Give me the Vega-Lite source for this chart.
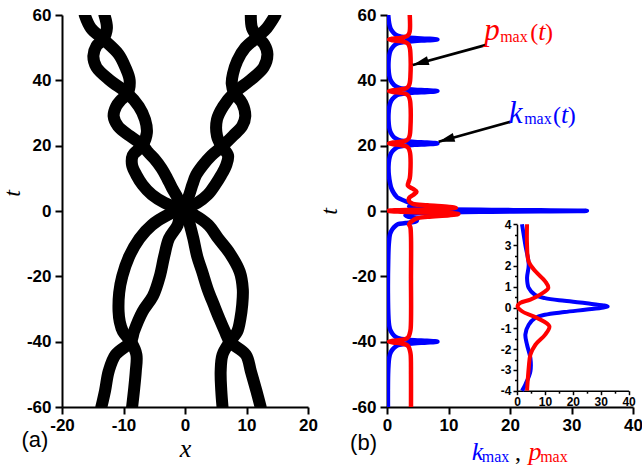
{
  "$schema": "https://vega.github.io/schema/vega-lite/v6.json",
  "background": "white",
  "padding": {"left": 0, "top": 6, "right": 0, "bottom": 0},
  "bounds": "flush",
  "spacing": 79,
  "config": {
    "view": {"stroke": null},
    "axis": {"grid": false, "domainColor": "black", "domainWidth": 2, "tickColor": "black", "tickWidth": 2,
      "labelFont": "Liberation Sans", "labelFontWeight": 700, "labelFontSize": 17, "labelColor": "black",
      "labelFlush": false, "labelOverlap": false,
      "titleFont": "Liberation Serif", "titleFontStyle": "italic", "titleFontWeight": "normal", "titleFontSize": 24, "titleColor": "black"}
  },
  "datasets": {
    "strands": [
      {"g":"LA","t":0.5,"x":-0.5},{"g":"LA","t":2.5,"x":-3.3},{"g":"LA","t":5,"x":-5.4},{"g":"LA","t":8,"x":-6.9},{"g":"LA","t":11,"x":-7.9},{"g":"LA","t":14,"x":-8.6},{"g":"LA","t":17,"x":-8.5},{"g":"LA","t":20.2,"x":-6.9},{"g":"LA","t":24,"x":-6.2},{"g":"LA","t":28,"x":-6.5},{"g":"LA","t":32,"x":-7.5},{"g":"LA","t":36,"x":-9.35},{"g":"LA","t":40,"x":-12.2},{"g":"LA","t":44,"x":-14.4},{"g":"LA","t":47.5,"x":-14.9},{"g":"LA","t":50.5,"x":-14.4},{"g":"LA","t":52.6,"x":-13.3},{"g":"LA","t":56,"x":-12.7},{"g":"LA","t":60,"x":-13.1},
      {"g":"LB","t":0.5,"x":-0.5},{"g":"LB","t":4,"x":-1.2},{"g":"LB","t":7,"x":-2.1},{"g":"LB","t":10,"x":-2.9},{"g":"LB","t":13,"x":-3.8},{"g":"LB","t":16,"x":-5.0},{"g":"LB","t":18,"x":-6.0},{"g":"LB","t":20.2,"x":-6.9},{"g":"LB","t":23,"x":-9.0},{"g":"LB","t":26,"x":-10.9},{"g":"LB","t":29,"x":-11.6},{"g":"LB","t":32,"x":-11.2},{"g":"LB","t":34,"x":-10.4},{"g":"LB","t":36,"x":-9.35},{"g":"LB","t":40,"x":-9.0},{"g":"LB","t":44,"x":-9.7},{"g":"LB","t":48,"x":-10.8},{"g":"LB","t":52.6,"x":-13.3},{"g":"LB","t":56,"x":-15.3},{"g":"LB","t":60,"x":-16.3},
      {"g":"RA","t":0.5,"x":-0.5},{"g":"RA","t":2.5,"x":2.0},{"g":"RA","t":5,"x":3.7},{"g":"RA","t":8,"x":4.9},{"g":"RA","t":11,"x":5.9},{"g":"RA","t":14,"x":6.7},{"g":"RA","t":17,"x":7.0},{"g":"RA","t":19.7,"x":6.0},{"g":"RA","t":23,"x":5.2},{"g":"RA","t":28,"x":5.2},{"g":"RA","t":32,"x":6.2},{"g":"RA","t":36.2,"x":8.0},{"g":"RA","t":40,"x":10.6},{"g":"RA","t":44,"x":12.8},{"g":"RA","t":48,"x":13.4},{"g":"RA","t":51,"x":12.9},{"g":"RA","t":53.3,"x":11.8},{"g":"RA","t":56,"x":10.9},{"g":"RA","t":60,"x":10.7},
      {"g":"RB","t":0.5,"x":-0.5},{"g":"RB","t":4,"x":0.5},{"g":"RB","t":8,"x":1.2},{"g":"RB","t":11,"x":1.8},{"g":"RB","t":14,"x":2.9},{"g":"RB","t":17,"x":4.3},{"g":"RB","t":19.7,"x":6.0},{"g":"RB","t":23,"x":7.8},{"g":"RB","t":26,"x":9.3},{"g":"RB","t":29,"x":9.8},{"g":"RB","t":33,"x":9.3},{"g":"RB","t":36.2,"x":8.0},{"g":"RB","t":39,"x":7.6},{"g":"RB","t":42,"x":7.8},{"g":"RB","t":46,"x":8.5},{"g":"RB","t":50,"x":9.8},{"g":"RB","t":53.3,"x":11.8},{"g":"RB","t":56,"x":13.3},{"g":"RB","t":60,"x":14.7},
      {"g":"LC","t":-60,"x":-8.6},{"g":"LC","t":-55,"x":-8.3},{"g":"LC","t":-49,"x":-8.0},{"g":"LC","t":-44,"x":-7.9},{"g":"LC","t":-40,"x":-8.8},{"g":"LC","t":-36.9,"x":-10.1},{"g":"LC","t":-34,"x":-10.6},{"g":"LC","t":-30.8,"x":-10.8},{"g":"LC","t":-25,"x":-10.7},{"g":"LC","t":-20,"x":-10.2},{"g":"LC","t":-14,"x":-9.1},{"g":"LC","t":-8.4,"x":-7.4},{"g":"LC","t":-4.3,"x":-5.4},{"g":"LC","t":-1.2,"x":-2.8},{"g":"LC","t":0.5,"x":-0.5},
      {"g":"LD","t":-60,"x":-13.6},{"g":"LD","t":-55,"x":-13.0},{"g":"LD","t":-49,"x":-12.4},{"g":"LD","t":-44,"x":-11.3},{"g":"LD","t":-40,"x":-8.8},{"g":"LD","t":-36.9,"x":-8.3},{"g":"LD","t":-30.8,"x":-6.9},{"g":"LD","t":-26,"x":-5.2},{"g":"LD","t":-20,"x":-4.1},{"g":"LD","t":-14,"x":-3.4},{"g":"LD","t":-8.4,"x":-2.6},{"g":"LD","t":-4.3,"x":-1.2},{"g":"LD","t":-1.2,"x":-0.8},{"g":"LD","t":0.5,"x":-0.5},
      {"g":"RC","t":-60,"x":12.3},{"g":"RC","t":-55,"x":11.6},{"g":"RC","t":-49,"x":10.7},{"g":"RC","t":-44,"x":9.9},{"g":"RC","t":-40,"x":7.3},{"g":"RC","t":-36.9,"x":6.5},{"g":"RC","t":-33,"x":5.6},{"g":"RC","t":-28.8,"x":4.7},{"g":"RC","t":-24,"x":3.7},{"g":"RC","t":-18.6,"x":2.8},{"g":"RC","t":-14,"x":2.0},{"g":"RC","t":-8.4,"x":1.35},{"g":"RC","t":-4.3,"x":0.8},{"g":"RC","t":-1.2,"x":0.3},{"g":"RC","t":0.5,"x":-0.5},
      {"g":"RD","t":-60,"x":6.1},{"g":"RD","t":-55,"x":5.9},{"g":"RD","t":-49,"x":5.8},{"g":"RD","t":-44,"x":6.1},{"g":"RD","t":-40,"x":7.3},{"g":"RD","t":-36.9,"x":8.5},{"g":"RD","t":-33,"x":9.0},{"g":"RD","t":-28.8,"x":9.3},{"g":"RD","t":-24,"x":9.4},{"g":"RD","t":-18.6,"x":8.9},{"g":"RD","t":-13,"x":7.3},{"g":"RD","t":-8.4,"x":5.4},{"g":"RD","t":-4.3,"x":3.8},{"g":"RD","t":-1.2,"x":1.5},{"g":"RD","t":0.5,"x":-0.5}
    ],
    "curves": [
      {"s":"k","t":-60,"v":0.15},{"s":"k","t":-55,"v":0.15},{"s":"k","t":-50,"v":0.18},{"s":"k","t":-47,"v":0.25},{"s":"k","t":-45,"v":0.35},{"s":"k","t":-43.5,"v":0.55},{"s":"k","t":-42.4,"v":0.9},{"s":"k","t":-41.5,"v":1.4},{"s":"k","t":-41,"v":2.0},{"s":"k","t":-40.7,"v":3.0},{"s":"k","t":-40.45,"v":4.5},{"s":"k","t":-40.25,"v":6.5},{"s":"k","t":-40,"v":8.2},{"s":"k","t":-39.75,"v":6.5},{"s":"k","t":-39.55,"v":4.5},{"s":"k","t":-39.3,"v":3.0},{"s":"k","t":-39,"v":2.0},{"s":"k","t":-38.5,"v":1.4},{"s":"k","t":-37.6,"v":0.9},{"s":"k","t":-36.5,"v":0.55},{"s":"k","t":-35,"v":0.35},{"s":"k","t":-33,"v":0.25},{"s":"k","t":-25,"v":0.15},{"s":"k","t":-15,"v":0.2},{"s":"k","t":-10,"v":0.3},{"s":"k","t":-7,"v":0.5},{"s":"k","t":-5.5,"v":0.9},{"s":"k","t":-4.5,"v":1.4},{"s":"k","t":-4,"v":1.8},{"s":"k","t":-3.7,"v":3.0},{"s":"k","t":-3.07,"v":4.8},{"s":"k","t":-2.43,"v":4.8},{"s":"k","t":-1.79,"v":3.6},{"s":"k","t":-1.3,"v":3.0},{"s":"k","t":-0.83,"v":4.2},{"s":"k","t":-0.5,"v":6.6},{"s":"k","t":-0.35,"v":10},{"s":"k","t":-0.22,"v":17},{"s":"k","t":-0.1,"v":25},{"s":"k","t":0,"v":31},{"s":"k","t":0.05,"v":32.5},{"s":"k","t":0.1,"v":31},{"s":"k","t":0.2,"v":25},{"s":"k","t":0.32,"v":17},{"s":"k","t":0.45,"v":10},{"s":"k","t":0.6,"v":6.5},{"s":"k","t":0.94,"v":4.2},{"s":"k","t":1.42,"v":3.6},{"s":"k","t":2.06,"v":4.2},{"s":"k","t":3,"v":3.0},{"s":"k","t":4,"v":1.8},{"s":"k","t":4.5,"v":1.5},{"s":"k","t":5.5,"v":1.1},{"s":"k","t":7,"v":0.7},{"s":"k","t":8.5,"v":0.5},{"s":"k","t":11,"v":0.3},{"s":"k","t":13.7,"v":0.25},{"s":"k","t":15.7,"v":0.35},{"s":"k","t":17.2,"v":0.55},{"s":"k","t":18.3,"v":0.9},{"s":"k","t":19.2,"v":1.4},{"s":"k","t":19.7,"v":2.0},{"s":"k","t":20.0,"v":3.0},{"s":"k","t":20.25,"v":4.5},{"s":"k","t":20.45,"v":6.5},{"s":"k","t":20.7,"v":8.2},{"s":"k","t":20.95,"v":6.5},{"s":"k","t":21.15,"v":4.5},{"s":"k","t":21.4,"v":3.0},{"s":"k","t":21.7,"v":2.0},{"s":"k","t":22.2,"v":1.4},{"s":"k","t":23.1,"v":0.9},{"s":"k","t":24.2,"v":0.55},{"s":"k","t":25.7,"v":0.35},{"s":"k","t":27.7,"v":0.25},{"s":"k","t":29.7,"v":0.25},{"s":"k","t":31.7,"v":0.35},{"s":"k","t":33.2,"v":0.55},{"s":"k","t":34.3,"v":0.9},{"s":"k","t":35.2,"v":1.4},{"s":"k","t":35.7,"v":2.0},{"s":"k","t":36.0,"v":3.0},{"s":"k","t":36.25,"v":4.5},{"s":"k","t":36.45,"v":6.5},{"s":"k","t":36.7,"v":8.2},{"s":"k","t":36.95,"v":6.5},{"s":"k","t":37.15,"v":4.5},{"s":"k","t":37.4,"v":3.0},{"s":"k","t":37.7,"v":2.0},{"s":"k","t":38.2,"v":1.4},{"s":"k","t":39.1,"v":0.9},{"s":"k","t":40.2,"v":0.55},{"s":"k","t":41.7,"v":0.35},{"s":"k","t":43.7,"v":0.25},{"s":"k","t":45.5,"v":0.25},{"s":"k","t":47.5,"v":0.35},{"s":"k","t":49,"v":0.55},{"s":"k","t":50.1,"v":0.9},{"s":"k","t":51,"v":1.4},{"s":"k","t":51.5,"v":2.0},{"s":"k","t":51.8,"v":3.0},{"s":"k","t":52.05,"v":4.5},{"s":"k","t":52.25,"v":6.5},{"s":"k","t":52.5,"v":8.2},{"s":"k","t":52.75,"v":6.5},{"s":"k","t":52.95,"v":4.5},{"s":"k","t":53.2,"v":3.0},{"s":"k","t":53.5,"v":2.0},{"s":"k","t":54,"v":1.4},{"s":"k","t":54.9,"v":0.9},{"s":"k","t":56,"v":0.55},{"s":"k","t":57.5,"v":0.35},{"s":"k","t":60,"v":0.2},
      {"s":"p","t":-60,"v":3.9},{"s":"p","t":-50,"v":3.9},{"s":"p","t":-44,"v":3.85},{"s":"p","t":-42.5,"v":3.7},{"s":"p","t":-41.5,"v":3.5},{"s":"p","t":-40.9,"v":3.1},{"s":"p","t":-40.5,"v":2.2},{"s":"p","t":-40.25,"v":1.0},{"s":"p","t":-40,"v":0.3},{"s":"p","t":-39.75,"v":1.0},{"s":"p","t":-39.5,"v":2.2},{"s":"p","t":-39.1,"v":3.1},{"s":"p","t":-38.5,"v":3.5},{"s":"p","t":-37.5,"v":3.7},{"s":"p","t":-36,"v":3.85},{"s":"p","t":-20,"v":3.9},{"s":"p","t":-8,"v":3.9},{"s":"p","t":-5,"v":3.8},{"s":"p","t":-4,"v":3.6},{"s":"p","t":-2.9,"v":4.2},{"s":"p","t":-2.27,"v":4.8},{"s":"p","t":-1.79,"v":6.6},{"s":"p","t":-1.3,"v":10.1},{"s":"p","t":-0.9,"v":11.6},{"s":"p","t":-0.5,"v":7.2},{"s":"p","t":-0.18,"v":1.8},{"s":"p","t":0.06,"v":0.2},{"s":"p","t":0.22,"v":1.2},{"s":"p","t":0.38,"v":4.8},{"s":"p","t":0.62,"v":8.3},{"s":"p","t":0.94,"v":11.2},{"s":"p","t":1.26,"v":10.1},{"s":"p","t":1.74,"v":6.6},{"s":"p","t":2.2,"v":4.2},{"s":"p","t":3,"v":3.6},{"s":"p","t":4,"v":3.6},{"s":"p","t":5,"v":4.3},{"s":"p","t":5.9,"v":4.8},{"s":"p","t":6.8,"v":4.2},{"s":"p","t":7.8,"v":3.4},{"s":"p","t":8.8,"v":3.5},{"s":"p","t":10,"v":3.7},{"s":"p","t":12,"v":3.8},{"s":"p","t":17,"v":3.8},{"s":"p","t":18.2,"v":3.7},{"s":"p","t":19.2,"v":3.5},{"s":"p","t":19.8,"v":3.1},{"s":"p","t":20.2,"v":2.2},{"s":"p","t":20.45,"v":1.0},{"s":"p","t":20.7,"v":0.3},{"s":"p","t":20.95,"v":1.0},{"s":"p","t":21.2,"v":2.2},{"s":"p","t":21.6,"v":3.1},{"s":"p","t":22.2,"v":3.5},{"s":"p","t":23.2,"v":3.7},{"s":"p","t":25,"v":3.8},{"s":"p","t":33,"v":3.8},{"s":"p","t":34.2,"v":3.7},{"s":"p","t":35.2,"v":3.5},{"s":"p","t":35.8,"v":3.1},{"s":"p","t":36.2,"v":2.2},{"s":"p","t":36.45,"v":1.0},{"s":"p","t":36.7,"v":0.3},{"s":"p","t":36.95,"v":1.0},{"s":"p","t":37.2,"v":2.2},{"s":"p","t":37.6,"v":3.1},{"s":"p","t":38.2,"v":3.5},{"s":"p","t":39.2,"v":3.7},{"s":"p","t":41,"v":3.8},{"s":"p","t":48.5,"v":3.8},{"s":"p","t":50,"v":3.7},{"s":"p","t":51,"v":3.5},{"s":"p","t":51.6,"v":3.1},{"s":"p","t":52,"v":2.2},{"s":"p","t":52.25,"v":1.0},{"s":"p","t":52.5,"v":0.3},{"s":"p","t":52.75,"v":1.0},{"s":"p","t":53,"v":2.2},{"s":"p","t":53.4,"v":3.1},{"s":"p","t":54,"v":3.5},{"s":"p","t":55,"v":3.7},{"s":"p","t":57,"v":3.75},{"s":"p","t":60,"v":3.7}
    ],
    "arrows": [
      {"v":16.0,"t":50.8,"v2":4.2,"t2":44.7},
      {"v":20.05,"t":27.3,"v2":8.4,"t2":21.2}
    ],
    "notes": [
      {"v":15.8,"t":52.4,"txt":"p","s":"p","role":"var"},
      {"v":18.4,"t":51.8,"txt":"max","s":"p","role":"sub"},
      {"v":23.3,"t":52.4,"txt":"(","s":"p","role":"par"},
      {"v":24.6,"t":52.4,"txt":"t","s":"p","role":"tv"},
      {"v":25.7,"t":52.4,"txt":")","s":"p","role":"par"},
      {"v":19.8,"t":26.9,"txt":"k","s":"k","role":"var"},
      {"v":22.3,"t":26.5,"txt":"max","s":"k","role":"sub"},
      {"v":27.0,"t":26.9,"txt":"(","s":"k","role":"par"},
      {"v":28.3,"t":26.9,"txt":"t","s":"k","role":"tv"},
      {"v":29.4,"t":26.9,"txt":")","s":"k","role":"par"},
      {"v":13.8,"t":-76.1,"txt":"k","s":"k","role":"tv"},
      {"v":15.4,"t":-76.7,"txt":"max","s":"k","role":"sub"},
      {"v":20.8,"t":-76.1,"txt":",","s":"n","role":"par"},
      {"v":23.0,"t":-76.1,"txt":"p","s":"p","role":"tv"},
      {"v":24.9,"t":-76.7,"txt":"max","s":"p","role":"sub"}
    ]
  },
  "hconcat": [
    {
      "width": 246, "height": 392,
      "layer": [
        {
          "data": {"name": "strands"},
          "mark": {"type": "line", "color": "black", "strokeWidth": 12, "strokeCap": "round", "strokeJoin": "round", "interpolate": "catmull-rom", "clip": true},
          "encoding": {
            "x": {"field": "x", "type": "quantitative", "scale": {"domain": [-20, 20], "nice": false, "zero": false},
              "axis": {"title": "x", "titleFontSize": 26, "titlePadding": 2, "values": [-20,-15,-10,-5,0,5,10,15,20],
                "labelExpr": "datum.value % 10 == 0 ? '' + datum.value : ''", "labelFontWeight": 700,
                "tickSize": {"condition": {"test": "datum.value % 10 == 0", "value": 7}, "value": 4}, "labelPadding": 3}},
            "y": {"field": "t", "type": "quantitative", "scale": {"domain": [-60, 60], "nice": false, "zero": false},
              "axis": {"title": "t", "titlePadding": 2, "titleY": 178, "values": [-60,-50,-40,-30,-20,-10,0,10,20,30,40,50,60],
                "labelExpr": "datum.value % 20 == 0 ? '' + datum.value : ''", "labelFontWeight": 700,
                "tickSize": {"condition": {"test": "datum.value % 20 == 0", "value": 7}, "value": 4}, "labelPadding": 4}},
            "detail": {"field": "g"},
            "order": {"field": "t"}
          }
        },
        {
          "data": {"values": [{"x": -26.6, "t": -72.2, "txt": "(a)"}]},
          "mark": {"type": "text", "font": "Liberation Sans", "fontSize": 22, "align": "left", "baseline": "alphabetic", "color": "black"},
          "encoding": {
            "x": {"field": "x", "type": "quantitative"},
            "y": {"field": "t", "type": "quantitative"},
            "text": {"field": "txt"}
          }
        }
      ]
    },
    {
      "width": 246, "height": 392,
      "layer": [
        {
          "layer": [
            {
              "data": {"name": "curves"},
              "mark": {"type": "line", "strokeWidth": 4.5, "interpolate": "catmull-rom", "clip": true},
              "encoding": {
                "x": {"field": "v", "type": "quantitative", "scale": {"domain": [0, 40], "nice": false, "zero": false},
                  "axis": {"title": null, "values": [0,5,10,15,20,25,30,35,40],
                    "labelExpr": "datum.value % 10 == 0 ? '' + datum.value : ''", "labelFontWeight": 700,
                    "tickSize": {"condition": {"test": "datum.value % 10 == 0", "value": 7}, "value": 4}, "labelPadding": 3}},
                "y": {"field": "t", "type": "quantitative", "scale": {"domain": [-60, 60], "nice": false, "zero": false},
                  "axis": {"title": "t", "titlePadding": 10, "values": [-60,-50,-40,-30,-20,-10,0,10,20,30,40,50,60],
                    "labelExpr": "datum.value % 20 == 0 ? '' + datum.value : ''", "labelFontWeight": 700,
                    "tickSize": {"condition": {"test": "datum.value % 20 == 0", "value": 7}, "value": 4}, "labelPadding": 4}},
                "color": {"field": "s", "type": "nominal", "scale": {"domain": ["k", "p", "n"], "range": ["#0000ff", "#ff0000", "#000000"]}, "legend": null},
                "order": {"field": "t"}
              }
            },
            {
              "data": {"name": "arrows"},
              "mark": {"type": "rule", "color": "black", "strokeWidth": 2.8},
              "encoding": {
                "x": {"field": "v", "type": "quantitative"},
                "y": {"field": "t", "type": "quantitative"},
                "x2": {"field": "v2"},
                "y2": {"field": "t2"}
              }
            },
            {
              "data": {"name": "arrows"},
              "mark": {"type": "point", "shape": "M0,0L-0.28,1L0.28,1Z", "size": 1024, "angle": 254, "filled": true, "color": "black", "opacity": 1, "strokeWidth": 0},
              "encoding": {
                "x": {"field": "v2", "type": "quantitative"},
                "y": {"field": "t2", "type": "quantitative"}
              }
            },
            {
              "data": {"name": "notes"},
              "transform": [{"filter": "datum.role == 'var'"}],
              "mark": {"type": "text", "font": "Liberation Serif", "fontStyle": "italic", "fontSize": 31, "align": "left", "baseline": "alphabetic"},
              "encoding": {
                "x": {"field": "v", "type": "quantitative"},
                "y": {"field": "t", "type": "quantitative"},
                "text": {"field": "txt"},
                "color": {"field": "s", "type": "nominal", "scale": {"domain": ["k", "p", "n"], "range": ["#0000ff", "#ff0000", "#000000"]}, "legend": null}
              }
            },
            {
              "data": {"name": "notes"},
              "transform": [{"filter": "datum.role == 'tv'"}],
              "mark": {"type": "text", "font": "Liberation Serif", "fontStyle": "italic", "fontSize": 26, "align": "left", "baseline": "alphabetic"},
              "encoding": {
                "x": {"field": "v", "type": "quantitative"},
                "y": {"field": "t", "type": "quantitative"},
                "text": {"field": "txt"},
                "color": {"field": "s", "type": "nominal", "scale": {"domain": ["k", "p", "n"], "range": ["#0000ff", "#ff0000", "#000000"]}, "legend": null}
              }
            },
            {
              "data": {"name": "notes"},
              "transform": [{"filter": "datum.role == 'sub'"}],
              "mark": {"type": "text", "font": "Liberation Serif", "fontSize": 16, "align": "left", "baseline": "alphabetic"},
              "encoding": {
                "x": {"field": "v", "type": "quantitative"},
                "y": {"field": "t", "type": "quantitative"},
                "text": {"field": "txt"},
                "color": {"field": "s", "type": "nominal", "scale": {"domain": ["k", "p", "n"], "range": ["#0000ff", "#ff0000", "#000000"]}, "legend": null}
              }
            },
            {
              "data": {"name": "notes"},
              "transform": [{"filter": "datum.role == 'par'"}],
              "mark": {"type": "text", "font": "Liberation Serif", "fontSize": 24, "align": "left", "baseline": "alphabetic"},
              "encoding": {
                "x": {"field": "v", "type": "quantitative"},
                "y": {"field": "t", "type": "quantitative"},
                "text": {"field": "txt"},
                "color": {"field": "s", "type": "nominal", "scale": {"domain": ["k", "p", "n"], "range": ["#0000ff", "#ff0000", "#000000"]}, "legend": null}
              }
            },
            {
              "data": {"values": [{"v": -6.0, "t": -73.2, "txt": "(b)"}]},
              "mark": {"type": "text", "font": "Liberation Sans", "fontSize": 22, "align": "left", "baseline": "alphabetic", "color": "black"},
              "encoding": {
                "x": {"field": "v", "type": "quantitative"},
                "y": {"field": "t", "type": "quantitative"},
                "text": {"field": "txt"}
              }
            }
          ]
        },
        {
          "data": {"name": "curves"},
          "transform": [{"filter": "datum.t >= -4.05 && datum.t <= 4.05"}],
          "mark": {"type": "line", "strokeWidth": 4, "interpolate": "catmull-rom"},
          "encoding": {
            "x": {"field": "v", "type": "quantitative", "scale": {"domain": [0, 40], "range": [130, 241.6], "nice": false, "zero": false},
              "axis": {"orient": "bottom", "offset": -16.3, "title": null, "values": [0,5,10,15,20,25,30,35,40],
                "labelExpr": "datum.value % 10 == 0 ? '' + datum.value : ''", "labelFontSize": 12, "labelFontWeight": 700, "domainWidth": 1.5, "tickWidth": 1.5,
                "tickSize": {"condition": {"test": "datum.value % 10 == 0", "value": 4}, "value": 2.5}, "labelPadding": 2}},
            "y": {"field": "t", "type": "quantitative", "scale": {"domain": [-4, 4], "range": [375.7, 209.3], "nice": false, "zero": false},
              "axis": {"orient": "left", "offset": -130, "title": null, "values": [-4,-3.5,-3,-2.5,-2,-1.5,-1,-0.5,0,0.5,1,1.5,2,2.5,3,3.5,4],
                "labelExpr": "datum.value % 1 == 0 ? '' + datum.value : ''", "labelFontSize": 12, "labelFontWeight": 700, "domainWidth": 1.5, "tickWidth": 1.5,
                "tickSize": {"condition": {"test": "datum.value % 1 == 0", "value": 4}, "value": 2.5}, "labelPadding": 2}},
            "color": {"field": "s", "type": "nominal", "scale": {"domain": ["k", "p", "n"], "range": ["#0000ff", "#ff0000", "#000000"]}, "legend": null},
            "order": {"field": "t"}
          }
        }
      ],
      "resolve": {"scale": {"x": "independent", "y": "independent"}, "axis": {"x": "independent", "y": "independent"}}
    }
  ]
}
